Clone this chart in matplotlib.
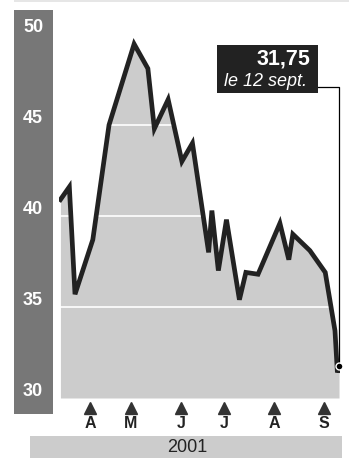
import matplotlib
matplotlib.use('Agg')
import matplotlib.pyplot as plt
from matplotlib.patches import Rectangle

plt.rcParams['font.family'] = ['Liberation Sans', 'DejaVu Sans']

# jours depuis le debut de la serie (fin mars 2001) et cours
jours = [1.5, 7, 10.5, 21.5, 31.5, 47, 55.5, 59.5, 68, 76.5, 83, 93, 95, 99, 104,
         112, 116, 123.5, 137, 142.5, 145, 155.5, 165, 171, 172.5, 173.5]
cours = [40.9, 41.6, 35.7, 38.7, 45.0, 49.45, 48.1, 44.8, 46.4, 43.0, 44.0, 38.0,
         40.3, 37.0, 39.8, 35.4, 36.9, 36.8, 39.6, 37.6, 39.0, 38.1, 36.9, 33.7,
         31.4, 31.75]
mois = ['A', 'M', 'J', 'J', 'A', 'S']
mois_pos = [19.75, 45, 75.9, 102.5, 133.3, 164.2]
yticks = [30, 35, 40, 45, 50]
grilles = [35, 40, 45]
annee = '2001'
dernier_txt = '31,75'
dernier_date = 'le 12 sept.'

W, H = 349, 462
fig = plt.figure(figsize=(W / 100, H / 100), dpi=100)

def fx(px):
    return px / W

def fy(py):
    return 1 - py / H

# bandes de fond
fig.add_artist(Rectangle((fx(14), fy(2)), fx(335), 2 / H, color='#e6e6e6', lw=0, zorder=-1))
fig.add_artist(Rectangle((fx(14), fy(414)), fx(39), 404 / H, color='#777777', lw=0, zorder=-1))
fig.add_artist(Rectangle((fx(30), fy(458)), fx(312), 22 / H, color='#cccccc', lw=0, zorder=-1))

ax = fig.add_axes([fx(59), fy(398), fx(281), 388 / H])
ax.set_facecolor('none')
ax.set_xlim(0.62, 174.1)
ax.set_ylim(30, 30 + 388 / 18.2)
for s in ax.spines.values():
    s.set_visible(False)
ax.set_xticks([])
ax.set_yticks([])

ax.fill_between(jours, cours, 30, color='#cccccc', lw=0, zorder=1)
for g in grilles:
    ax.axhline(g, color='white', lw=1.2, zorder=2)
ax.plot(jours, cours, color='#222222', lw=3.4, solid_joinstyle='miter', zorder=3)
ax.plot(jours[-1], cours[-1], 'o', ms=5, mfc='black', mec='white', mew=1, zorder=5, clip_on=False)

import matplotlib.transforms as mtrans
tr = mtrans.blended_transform_factory(fig.transFigure, ax.transData)
for v in yticks:
    ax.text(fx(33), v + 0.38, str(v), transform=tr, ha='center', va='center',
            color='white', fontsize=13, fontweight='bold')

xtr = ax.get_xaxis_transform()
ax.plot(mois_pos, [-0.026] * len(mois_pos), transform=xtr, marker='^', ls='none',
        ms=8.5, color='#333333', clip_on=False)
for p, m in zip(mois_pos, mois):
    ax.text(p, -0.067, m, transform=xtr, ha='center', va='center',
            fontsize=11.5, fontweight='bold', color='#222222')

fig.text(fx(187), fy(447), annee, ha='center', va='center', fontsize=13, color='#222222')

# etiquette du dernier cours
ax.annotate('', xy=(jours[-1], cours[-1]), xycoords='data',
            xytext=(fx(307), fy(87)), textcoords='figure fraction',
            arrowprops=dict(arrowstyle='-', connectionstyle='angle,angleA=0,angleB=90,rad=0',
                            color='black', lw=0.9, shrinkA=0, shrinkB=0), zorder=4)
fig.add_artist(Rectangle((fx(217), fy(93)), fx(101), 48 / H, color='#222222', lw=0, zorder=5))
fig.text(fx(310), fy(59), dernier_txt, ha='right', va='center', fontsize=15.5,
         fontweight='bold', color='white', zorder=6)
fig.text(fx(307), fy(82), dernier_date, ha='right', va='center', fontsize=13,
         style='italic', color='white', zorder=6)

plt.savefig('out.png', dpi=100)
